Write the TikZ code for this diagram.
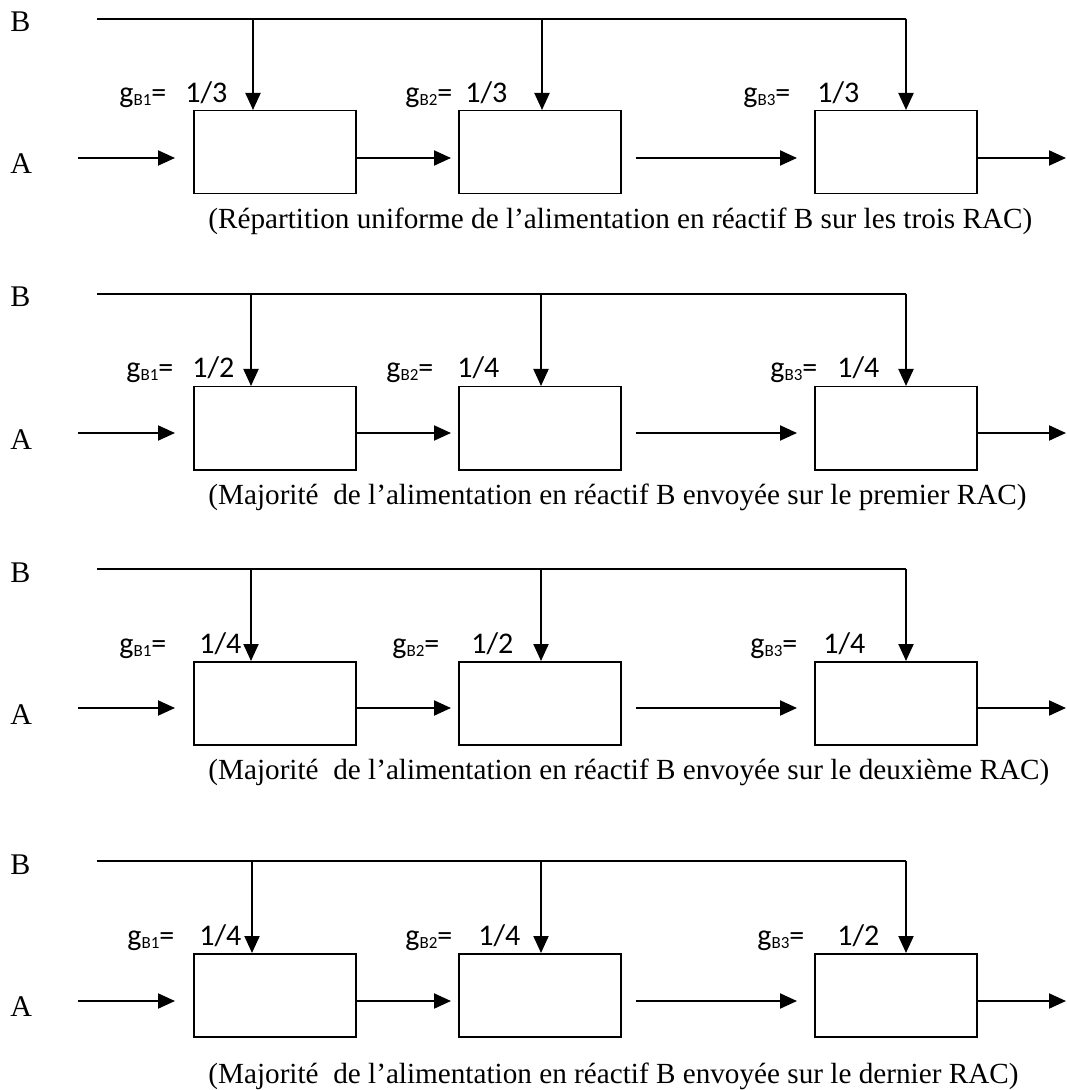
\documentclass[tikz,border=0pt]{standalone}
\usepackage{fontspec}
\setmainfont{Liberation Serif}
\newfontfamily\calibri{Carlito}
\usetikzlibrary{arrows.meta}
\newcommand{\gsub}[1]{g\raisebox{-1.5pt}{\fontsize{8.5}{9}\selectfont B#1}=}

\begin{document}
\begin{tikzpicture}[x=0.5pt, y=-0.5pt,
    box/.style={draw, line width=0.75pt, minimum width=81pt, minimum height=41.5pt, anchor=north west, inner sep=0pt},
    flow/.style={-{Triangle[length=8.5pt,width=7.5pt]}, line width=1pt},
    feed/.style={line width=0.75pt},
    lbl/.style={font=\calibri\fontsize{15}{17}\selectfont, anchor=base west, inner sep=0pt},
    txt/.style={font=\fontsize{15}{18}\selectfont, anchor=base west, inner sep=0pt},
    note/.style={font=\fontsize{14.6}{17}\selectfont, anchor=base west, inner sep=0pt}]
  \useasboundingbox (0,0) rectangle (1066,1090);

  \begin{scope}[shift={(0,19)}]
    \node[txt] (b1) at (10,13) {B};
    \node[txt] (a1) at (10,155) {A};
    \coordinate (s1) at (97,0);
    \coordinate (e1) at (906,0);
    \coordinate (i1) at (78,139);
    \coordinate (o1) at (1066,139);
    \coordinate (d11) at (253,0);
    \coordinate (d12) at (542,0);
    \node[box] (r11) at (193,91) {};
    \node[box] (r12) at (458,91) {};
    \node[box] (r13) at (814,91) {};
    \node[lbl] (g11) at (119,84) {\makebox[33pt][l]{\gsub{1}}1/3};
    \node[lbl] (g12) at (405,84) {\makebox[30pt][l]{\gsub{2}}1/3};
    \node[lbl] (g13) at (743,84) {\makebox[37pt][l]{\gsub{3}}1/3};
    \draw[feed] (s1) -- (e1);
    \draw[flow] (d11) -- (d11 |- r11.north);
    \draw[flow] (d12) -- (d12 |- r12.north);
    \draw[flow] (e1) -- (e1 |- r13.north);
    \draw[flow, shorten >=9pt] (i1) -- (i1 -| r11.west);
    \draw[flow, shorten >=3.5pt] (i1 -| r11.east) -- (i1 -| r12.west);
    \draw[flow, shorten <=7pt, shorten >=8.5pt] (i1 -| r12.east) -- (i1 -| r13.west);
    \draw[flow] (i1 -| r13.east) -- (o1);
    \node[note] (c1) at (208,210) {(Répartition uniforme de l’alimentation en réactif B sur les trois RAC)};
  \end{scope}

  \begin{scope}[shift={(0,294)}]
    \node[txt] (b2) at (10,13) {B};
    \node[txt] (a2) at (10,155) {A};
    \coordinate (s2) at (97,0);
    \coordinate (e2) at (906,0);
    \coordinate (i2) at (78,139);
    \coordinate (o2) at (1066,139);
    \coordinate (d21) at (251,0);
    \coordinate (d22) at (541,0);
    \node[box] (r21) at (193,92) {};
    \node[box] (r22) at (458,92) {};
    \node[box] (r23) at (814,92) {};
    \node[lbl] (g21) at (126,84) {\makebox[33pt][l]{\gsub{1}}1/2};
    \node[lbl] (g22) at (386,84) {\makebox[35.5pt][l]{\gsub{2}}1/4};
    \node[lbl] (g23) at (770,84) {\makebox[33.5pt][l]{\gsub{3}}1/4};
    \draw[feed] (s2) -- (e2);
    \draw[flow] (d21) -- (d21 |- r21.north);
    \draw[flow] (d22) -- (d22 |- r22.north);
    \draw[flow] (e2) -- (e2 |- r23.north);
    \draw[flow, shorten >=9pt] (i2) -- (i2 -| r21.west);
    \draw[flow, shorten >=3.5pt] (i2 -| r21.east) -- (i2 -| r22.west);
    \draw[flow, shorten <=7pt, shorten >=8.5pt] (i2 -| r22.east) -- (i2 -| r23.west);
    \draw[flow] (i2 -| r23.east) -- (o2);
    \node[note] (c2) at (208,210) {(Majorité~~de l’alimentation en réactif B envoyée sur le premier RAC)};
  \end{scope}

  \begin{scope}[shift={(0,569)}]
    \node[txt] (b3) at (10,13) {B};
    \node[txt] (a3) at (10,155) {A};
    \coordinate (s3) at (97,0);
    \coordinate (e3) at (906,0);
    \coordinate (i3) at (78,139);
    \coordinate (o3) at (1066,139);
    \coordinate (d31) at (251,0);
    \coordinate (d32) at (541,0);
    \node[box] (r31) at (193,92) {};
    \node[box] (r32) at (458,92) {};
    \node[box] (r33) at (814,92) {};
    \node[lbl] (g31) at (119,84) {\makebox[40pt][l]{\gsub{1}}1/4};
    \node[lbl] (g32) at (392,84) {\makebox[39.5pt][l]{\gsub{2}}1/2};
    \node[lbl] (g33) at (750,84) {\makebox[36.5pt][l]{\gsub{3}}1/4};
    \draw[feed] (s3) -- (e3);
    \draw[flow] (d31) -- (d31 |- r31.north);
    \draw[flow] (d32) -- (d32 |- r32.north);
    \draw[flow] (e3) -- (e3 |- r33.north);
    \draw[flow, shorten >=9pt] (i3) -- (i3 -| r31.west);
    \draw[flow, shorten >=3.5pt] (i3 -| r31.east) -- (i3 -| r32.west);
    \draw[flow, shorten <=7pt, shorten >=8.5pt] (i3 -| r32.east) -- (i3 -| r33.west);
    \draw[flow] (i3 -| r33.east) -- (o3);
    \node[note] (c3) at (208,210) {(Majorité~~de l’alimentation en réactif B envoyée sur le deuxième RAC)};
  \end{scope}

  \begin{scope}[shift={(0,861)}]
    \node[txt] (b4) at (10,13) {B};
    \node[txt] (a4) at (10,155) {A};
    \coordinate (s4) at (97,0);
    \coordinate (e4) at (906,0);
    \coordinate (i4) at (78,140);
    \coordinate (o4) at (1066,140);
    \coordinate (d41) at (252,0);
    \coordinate (d42) at (541,0);
    \node[box] (r41) at (193,92) {};
    \node[box] (r42) at (458,92) {};
    \node[box] (r43) at (814,92) {};
    \node[lbl] (g41) at (127,84) {\makebox[36pt][l]{\gsub{1}}1/4};
    \node[lbl] (g42) at (405,84) {\makebox[36.5pt][l]{\gsub{2}}1/4};
    \node[lbl] (g43) at (757,84) {\makebox[40pt][l]{\gsub{3}}1/2};
    \draw[feed] (s4) -- (e4);
    \draw[flow] (d41) -- (d41 |- r41.north);
    \draw[flow] (d42) -- (d42 |- r42.north);
    \draw[flow] (e4) -- (e4 |- r43.north);
    \draw[flow, shorten >=9pt] (i4) -- (i4 -| r41.west);
    \draw[flow, shorten >=3.5pt] (i4 -| r41.east) -- (i4 -| r42.west);
    \draw[flow, shorten <=7pt, shorten >=8.5pt] (i4 -| r42.east) -- (i4 -| r43.west);
    \draw[flow] (i4 -| r43.east) -- (o4);
    \node[note] (c4) at (208,222) {(Majorité~~de l’alimentation en réactif B envoyée sur le dernier RAC)};
  \end{scope}
\end{tikzpicture}
\end{document}
